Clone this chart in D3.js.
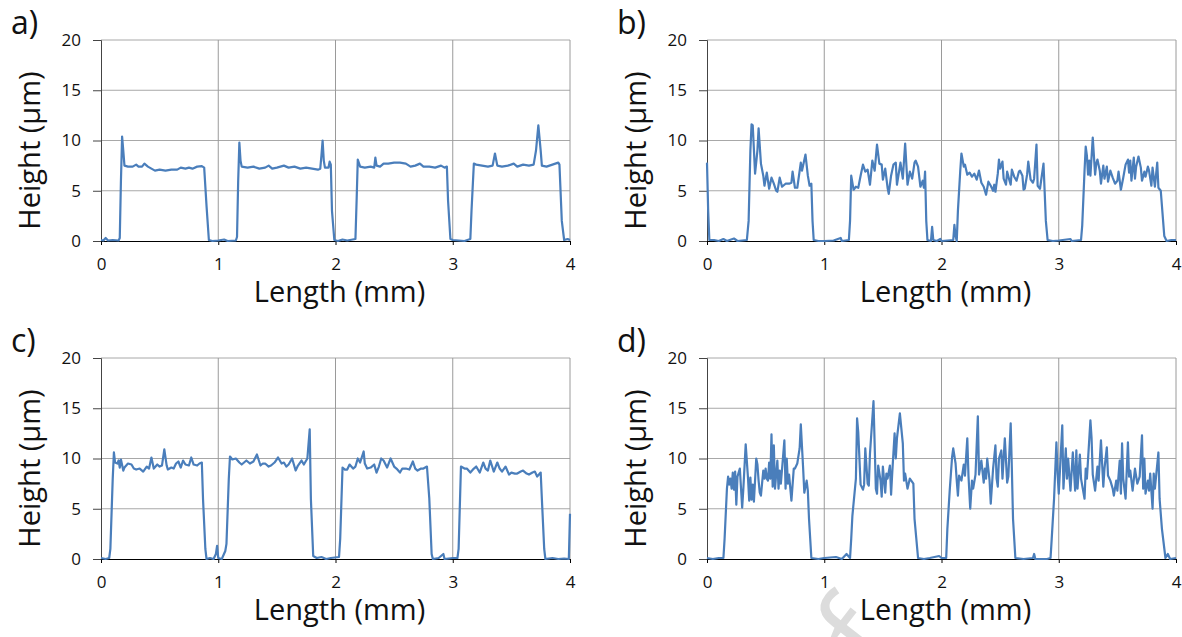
<!DOCTYPE html>
<html>
<head>
<meta charset="utf-8">
<script src="https://cdn.jsdelivr.net/npm/d3@7"></script>
<style>
body { margin: 0; background: #fff; }
text { font-family: "Open Sans", sans-serif; }
</style>
</head>
<body>
<script>
// tick values and labels
var xTicks = [0, 1, 2, 3, 4],
    yTicks = [0, 5, 10, 15, 20];
var panelLabels = ["a)", "b)", "c)", "d)"];
var xTitle = "Length (mm)",
    yTitle = "Height (µm)";

// profiles: [length mm, height µm]
var profileA = [[0,0.1],[0.02,0.05],[0.04,0.3],[0.06,0.05],[0.1,0.1],[0.15,0.05],[0.16,0.3],[0.17,6],[0.18,10.4],[0.19,9],[0.2,7.5],
  [0.23,7.4],[0.27,7.4],[0.3,7.6],[0.32,7.4],[0.35,7.4],[0.37,7.7],[0.4,7.4],[0.43,7.2],[0.46,7.0],[0.5,7.1],[0.55,7.0],[0.6,7.1],
  [0.65,7.1],[0.68,7.3],[0.72,7.2],[0.75,7.3],[0.78,7.2],[0.82,7.4],[0.86,7.45],[0.88,7.3],[0.9,3.5],[0.92,0.1],[0.95,0],[1.0,0.05],
  [1.05,0.15],[1.08,0],[1.15,0.05],[1.16,0.4],[1.17,6],[1.18,9.8],[1.19,8],[1.2,7.4],[1.25,7.3],[1.3,7.4],[1.35,7.2],[1.4,7.3],
  [1.43,7.5],[1.46,7.2],[1.5,7.3],[1.56,7.5],[1.6,7.3],[1.65,7.4],[1.7,7.2],[1.75,7.3],[1.8,7.2],[1.85,7.1],[1.87,7.2],[1.88,8.5],
  [1.89,10.0],[1.9,8],[1.91,7.3],[1.94,7.3],[1.95,7.9],[1.96,7.6],[1.97,3],[1.99,0.1],[2.02,0],[2.06,0.15],[2.1,0.05],[2.17,0.2],
  [2.18,4],[2.19,8.1],[2.21,7.4],[2.25,7.3],[2.3,7.4],[2.33,7.3],[2.34,8.3],[2.35,7.5],[2.38,7.4],[2.41,7.7],[2.45,7.7],[2.5,7.8],
  [2.55,7.8],[2.6,7.7],[2.64,7.4],[2.68,7.5],[2.72,7.7],[2.75,7.4],[2.8,7.4],[2.85,7.3],[2.9,7.5],[2.93,7.3],[2.95,7.4],[2.96,4],
  [2.98,0.2],[3.0,0.1],[3.05,0.05],[3.1,0],[3.15,0.2],[3.16,3],[3.18,7.7],[3.2,7.6],[3.25,7.5],[3.3,7.4],[3.34,7.5],[3.36,8.7],
  [3.38,7.5],[3.42,7.4],[3.47,7.5],[3.52,7.7],[3.55,7.4],[3.6,7.6],[3.65,7.5],[3.69,7.6],[3.71,9],[3.73,11.5],[3.75,9],[3.76,7.5],
  [3.8,7.4],[3.85,7.6],[3.9,7.8],[3.91,7.6],[3.93,2],[3.95,0.1],[3.98,0.2],[4.0,0.1]];

var profileB = [[0,7.8],[0.01,3],[0.02,0.1],[0.06,0.1],[0.1,0],[0.14,0.2],[0.17,0],[0.23,0.25],[0.26,0],[0.34,0.1],[0.355,2],[0.37,9],
  [0.38,11.6],[0.39,11.5],[0.41,6.7],[0.43,9],[0.44,11.2],[0.46,7.7],[0.48,6.5],[0.49,5.5],[0.51,6.8],[0.53,5.2],[0.55,6.3],
  [0.57,5.7],[0.59,5.0],[0.6,4.9],[0.62,6.3],[0.64,5.4],[0.67,5.7],[0.7,5.7],[0.72,5.8],[0.73,6.9],[0.75,5.3],[0.77,5.3],[0.8,7.8],
  [0.81,7.0],[0.84,8.6],[0.86,6.5],[0.875,5.5],[0.89,5.7],[0.9,2],[0.91,0.1],[0.95,0],[1.0,0],[1.08,0.05],[1.14,0.3],[1.15,0],
  [1.21,0.1],[1.22,2],[1.23,6.5],[1.25,5.1],[1.27,5.4],[1.29,5.3],[1.31,6.5],[1.33,7.6],[1.35,6.9],[1.37,7.1],[1.39,5.6],[1.41,8.0],
  [1.43,7.0],[1.45,9.6],[1.47,7.7],[1.49,7.6],[1.5,6.1],[1.52,7.2],[1.54,5.3],[1.55,4.7],[1.57,6.5],[1.59,7.6],[1.61,7.8],[1.62,5.6],
  [1.65,7.8],[1.67,6.2],[1.69,9.7],[1.71,5.6],[1.73,6.9],[1.75,6.2],[1.77,7.8],[1.78,8.0],[1.8,7.4],[1.82,5.4],[1.84,6.0],[1.85,5.3],
  [1.86,6.9],[1.87,2],[1.88,0.1],[1.91,0],[1.92,1.4],[1.93,0.1],[1.96,0],[1.99,0.2],[2.0,0],[2.1,0.1],[2.11,1.6],[2.12,0.5],
  [2.13,0],[2.14,3],[2.16,7],[2.17,8.7],[2.19,7.4],[2.2,7.6],[2.22,6.6],[2.24,6.8],[2.26,6.4],[2.28,6.7],[2.3,6.1],[2.32,7.0],
  [2.34,5.8],[2.36,5.4],[2.38,4.6],[2.4,5.9],[2.42,5.5],[2.44,5.0],[2.45,5.6],[2.46,4.9],[2.48,6.7],[2.49,8.1],[2.5,7.2],[2.52,7.9],
  [2.53,6.2],[2.55,5.6],[2.56,6.9],[2.58,6.0],[2.59,5.6],[2.6,7.1],[2.62,6.4],[2.64,6.0],[2.66,6.9],[2.67,7.0],[2.69,6.5],[2.7,5.1],
  [2.71,5.2],[2.73,6.6],[2.74,7.9],[2.76,6.1],[2.78,5.8],[2.79,6.2],[2.81,9.6],[2.82,5.5],[2.84,5.2],[2.87,7.7],[2.89,2],[2.905,0.1],
  [2.95,0],[3.0,0.05],[3.1,0.2],[3.11,0],[3.19,0.1],[3.2,1.5],[3.22,7],[3.23,9.4],[3.24,8.5],[3.25,6.6],[3.26,8.0],[3.27,6.5],
  [3.29,10.3],[3.31,6.6],[3.32,7.7],[3.33,8.1],[3.35,7.0],[3.36,5.7],[3.38,7.5],[3.39,6.2],[3.41,7.4],[3.42,5.9],[3.44,7.0],
  [3.46,6.3],[3.48,5.7],[3.5,6.0],[3.51,6.9],[3.53,5.1],[3.55,6.3],[3.57,7.6],[3.59,8.1],[3.6,6.8],[3.61,8.0],[3.62,6.0],[3.64,8.3],
  [3.65,6.2],[3.66,7.4],[3.68,8.4],[3.7,7.3],[3.71,6.0],[3.73,6.9],[3.74,6.4],[3.76,7.4],[3.77,7.0],[3.79,5.5],[3.8,7.3],[3.82,5.4],
  [3.84,7.8],[3.85,5.3],[3.87,5.0],[3.89,2],[3.9,0.5],[3.92,0],[3.96,0.1],[4.0,0.1]];

var profileC = [[0,0.1],[0.04,0],[0.07,0.1],[0.08,1],[0.1,8],[0.11,10.6],[0.12,9.6],[0.14,9.5],[0.15,9.8],[0.16,9.1],[0.17,9.9],
  [0.19,8.8],[0.2,9.1],[0.23,9.5],[0.26,9.4],[0.28,9.0],[0.3,8.9],[0.33,9.0],[0.36,8.7],[0.39,9.2],[0.41,9.0],[0.43,10.1],[0.45,9.0],
  [0.48,9.4],[0.5,9.2],[0.52,9.3],[0.54,10.9],[0.56,9.3],[0.57,8.9],[0.6,9.1],[0.62,9.0],[0.64,9.5],[0.66,9.7],[0.68,9.1],[0.7,9.8],
  [0.72,9.4],[0.75,9.3],[0.77,10.1],[0.79,9.4],[0.82,9.3],[0.84,9.5],[0.86,9.6],[0.87,6],[0.89,1],[0.9,0],[0.93,0.1],[0.96,0],
  [0.98,0.5],[0.99,1.3],[1.0,0.1],[1.03,0],[1.06,0.8],[1.07,1.5],[1.09,8],[1.1,10.2],[1.12,9.9],[1.15,10.0],[1.18,9.6],[1.2,9.4],
  [1.22,9.6],[1.24,9.8],[1.27,9.5],[1.3,9.7],[1.33,10.4],[1.36,9.3],[1.38,9.5],[1.4,9.5],[1.43,9.2],[1.45,9.3],[1.48,9.6],[1.51,10.1],
  [1.54,9.5],[1.56,9.6],[1.58,9.2],[1.6,9.4],[1.63,10.0],[1.66,8.8],[1.68,9.3],[1.71,9.8],[1.73,9.4],[1.74,9.6],[1.76,10.0],
  [1.78,12.9],[1.79,6],[1.81,0.3],[1.84,0.1],[1.88,0.2],[1.92,0],[1.96,0.1],[2.03,0.2],[2.04,2],[2.06,9.1],[2.08,8.9],[2.1,8.9],
  [2.12,9.4],[2.15,9.0],[2.17,9.2],[2.19,10.0],[2.21,9.6],[2.24,10.7],[2.25,9.5],[2.27,9.0],[2.3,9.1],[2.33,9.4],[2.35,8.6],
  [2.37,9.2],[2.39,10.0],[2.41,9.8],[2.44,9.1],[2.47,10.0],[2.5,9.2],[2.52,9.0],[2.55,8.6],[2.57,9.0],[2.6,9.0],[2.63,8.9],
  [2.66,9.7],[2.68,9.0],[2.7,8.8],[2.73,9.0],[2.75,9.0],[2.78,9.2],[2.8,6],[2.82,0.5],[2.83,0],[2.88,0.1],[2.92,0.5],[2.93,0],
  [3.0,0.1],[3.04,0.1],[3.05,1],[3.07,9.2],[3.1,9.0],[3.12,9.0],[3.15,8.6],[3.18,9.0],[3.2,9.2],[3.23,8.6],[3.26,9.6],[3.28,9.0],
  [3.3,8.8],[3.32,9.8],[3.35,8.7],[3.38,9.6],[3.4,9.0],[3.42,8.7],[3.45,9.2],[3.48,8.4],[3.5,8.6],[3.53,8.5],[3.55,8.5],[3.58,8.7],
  [3.6,8.8],[3.63,8.5],[3.65,8.4],[3.68,8.6],[3.7,8.7],[3.72,8.2],[3.75,8.6],[3.76,6],[3.78,1],[3.79,0],[3.85,0.1],[3.9,0],
  [3.95,0.05],[3.99,0],[4.0,4.5]];

var profileD = [[0,0.1],[0.05,0],[0.1,0.1],[0.14,0.1],[0.15,2],[0.17,7],[0.18,8.2],[0.19,7.4],[0.2,8.0],[0.21,7.0],[0.22,8.6],
  [0.23,6.9],[0.24,8.7],[0.25,5.4],[0.26,8.2],[0.28,9.0],[0.3,5.1],[0.31,7.0],[0.33,11.4],[0.35,8.0],[0.36,5.8],[0.37,8.1],[0.38,5.9],
  [0.39,7.4],[0.4,5.7],[0.42,10.0],[0.43,9.4],[0.44,7.8],[0.45,6.6],[0.46,6.3],[0.48,8.8],[0.49,8.0],[0.5,9.0],[0.51,8.0],[0.52,7.8],
  [0.53,9.6],[0.54,8.0],[0.55,12.4],[0.56,7.2],[0.57,11.3],[0.58,7.0],[0.6,9.8],[0.61,7.0],[0.62,8.8],[0.63,7.5],[0.66,11.8],
  [0.67,7.0],[0.68,10.0],[0.69,7.5],[0.7,8.4],[0.72,5.8],[0.74,9.0],[0.75,9.0],[0.77,9.5],[0.79,11],[0.8,13.4],[0.82,9.0],[0.83,6.6],
  [0.85,7.8],[0.86,6.8],[0.87,4],[0.89,0.1],[0.95,0],[1.0,0.1],[1.1,0.2],[1.15,0],[1.19,0.5],[1.22,0.1],[1.23,2],[1.24,4.3],
  [1.27,8.0],[1.28,14.0],[1.29,12.6],[1.31,7.4],[1.33,6.9],[1.34,7.4],[1.35,11.0],[1.37,7.5],[1.38,7.3],[1.39,10.5],[1.42,15.7],
  [1.44,7.0],[1.45,6.5],[1.46,9.3],[1.48,7.8],[1.49,6.2],[1.5,9.2],[1.52,6.6],[1.53,8.5],[1.54,8.0],[1.56,9.3],[1.57,6.4],[1.58,8.6],
  [1.6,12.5],[1.61,10.0],[1.62,12.0],[1.645,14.5],[1.67,11.5],[1.68,7.8],[1.69,8.5],[1.71,7.0],[1.73,8.0],[1.76,7.5],[1.77,4],
  [1.8,0.1],[1.85,0],[1.9,0.1],[1.98,0.3],[2.0,0.1],[2.04,0.1],[2.05,3],[2.07,6.8],[2.09,10.1],[2.1,11.0],[2.12,9.5],[2.13,7.8],
  [2.14,6.3],[2.15,8.3],[2.17,7.8],[2.19,9.4],[2.2,8.3],[2.22,12.0],[2.23,8.3],[2.245,5.0],[2.26,7.8],[2.27,7.0],[2.29,8.4],
  [2.31,14.2],[2.32,8.4],[2.34,9.8],[2.36,7.6],[2.37,9.0],[2.38,8.0],[2.39,10.0],[2.41,7.8],[2.42,5.5],[2.44,9.0],[2.46,11.3],
  [2.47,8.0],[2.48,7.2],[2.49,10.0],[2.51,10.8],[2.52,8.0],[2.54,12.0],[2.56,7.6],[2.57,8.2],[2.59,13.5],[2.6,9.0],[2.61,4],
  [2.63,0.1],[2.7,0],[2.78,0.1],[2.79,0.5],[2.8,0],[2.9,0],[2.93,0.1],[2.94,2],[2.96,6.0],[2.98,11.6],[2.99,8.5],[3.0,6.5],
  [3.03,13.3],[3.04,7.0],[3.06,11.0],[3.07,8.0],[3.08,10.0],[3.1,6.8],[3.11,8.7],[3.12,10.6],[3.14,6.8],[3.15,10.8],[3.16,7.0],
  [3.18,10.4],[3.19,8.0],[3.22,6.0],[3.23,9.0],[3.24,8.0],[3.27,13.8],[3.28,12.0],[3.29,8.4],[3.31,6.8],[3.33,9.2],[3.34,7.8],
  [3.36,11.8],[3.38,7.2],[3.39,9.0],[3.41,11.1],[3.42,8.3],[3.44,7.8],[3.46,7.0],[3.47,6.3],[3.49,7.8],[3.5,6.8],[3.52,9.8],
  [3.53,6.5],[3.54,11.5],[3.55,8.0],[3.57,6.0],[3.59,11.6],[3.6,8.2],[3.61,8.8],[3.63,6.8],[3.65,9.0],[3.67,7.5],[3.69,8.2],
  [3.71,12.3],[3.72,7.0],[3.73,10.0],[3.74,6.5],[3.76,7.8],[3.77,6.8],[3.78,8.5],[3.8,5.0],[3.81,8.5],[3.82,7.0],[3.85,10.6],
  [3.86,6.0],[3.88,3],[3.91,0.1],[3.93,0.5],[3.95,0],[4.0,0.1]];

var profiles = [profileA, profileB, profileC, profileD];

var width = 1182,
    height = 637,
    plotW = 469,
    plotH = 201;

// top-left corner of each plot area
var origins = [[101, 40], [707, 40], [101, 358], [707, 358]];

var svg = d3.select("body")
            .append("svg")
            .attr("width", width)
            .attr("height", height);

// faint watermark behind the charts
svg.append("text")
   .attr("transform", "translate(902,646) rotate(-52)")
   .attr("text-anchor", "end")
   .attr("font-size", 120)
   .attr("fill", "#dcdcdc")
   .text("Proof");

function drawPanel(i) {
  var x = d3.scaleLinear().domain([0, 4]).range([0, plotW]),
      y = d3.scaleLinear().domain([0, 20]).range([plotH, 0]);

  var g = svg.append("g")
             .attr("transform", "translate(" + origins[i][0] + "," + origins[i][1] + ")");

  // gridlines
  g.selectAll(".hgrid")
   .data(yTicks.slice(1))
   .enter().append("line")
   .attr("x1", 0).attr("x2", plotW)
   .attr("y1", function(d){ return y(d); })
   .attr("y2", function(d){ return y(d); })
   .attr("stroke", "#a8a8a8");
  g.selectAll(".vgrid")
   .data(xTicks.slice(1))
   .enter().append("line")
   .attr("x1", function(d){ return x(d); })
   .attr("x2", function(d){ return x(d); })
   .attr("y1", 0).attr("y2", plotH)
   .attr("stroke", "#9a9a9a");

  var yAxis = g.append("g")
               .call(d3.axisLeft(y).tickValues(yTicks).tickFormat(d3.format("d"))
                       .tickSize(8).tickPadding(12));
  var xAxis = g.append("g")
               .attr("transform", "translate(0," + plotH + ")")
               .call(d3.axisBottom(x).tickValues(xTicks).tickFormat(d3.format("d"))
                       .tickSize(4).tickPadding(13));
  yAxis.select(".domain").attr("stroke", "#444");
  yAxis.selectAll(".tick line").attr("stroke", "#444");
  xAxis.select(".domain").attr("stroke", "#000");
  [yAxis, xAxis].forEach(function(a){
    a.selectAll("text").attr("font-size", 17).attr("fill", "#111")
     .attr("font-family", "'Open Sans', sans-serif");
  });

  var line = d3.line()
               .x(function(d){ return x(d[0]); })
               .y(function(d){ return y(d[1]); });

  g.append("path")
   .attr("d", line(profiles[i]))
   .attr("fill", "none")
   .attr("stroke", "#4a7ebb")
   .attr("stroke-width", 2.2)
   .attr("stroke-linejoin", "round");

  g.append("text")
   .attr("x", plotW / 2 + 4)
   .attr("y", plotH + 61)
   .attr("text-anchor", "middle")
   .attr("font-size", 29)
   .attr("fill", "#111")
   .text(xTitle);

  g.append("text")
   .attr("transform", "translate(-61," + (plotH / 2 + 10) + ") rotate(-90)")
   .attr("text-anchor", "middle")
   .attr("font-size", 29)
   .attr("fill", "#111")
   .text(yTitle);

  g.append("text")
   .attr("x", -90)
   .attr("y", -6)
   .attr("font-size", 32)
   .attr("fill", "#111")
   .text(panelLabels[i]);
}

for (var i = 0; i < 4; i++) drawPanel(i);
</script>
</body>
</html>
